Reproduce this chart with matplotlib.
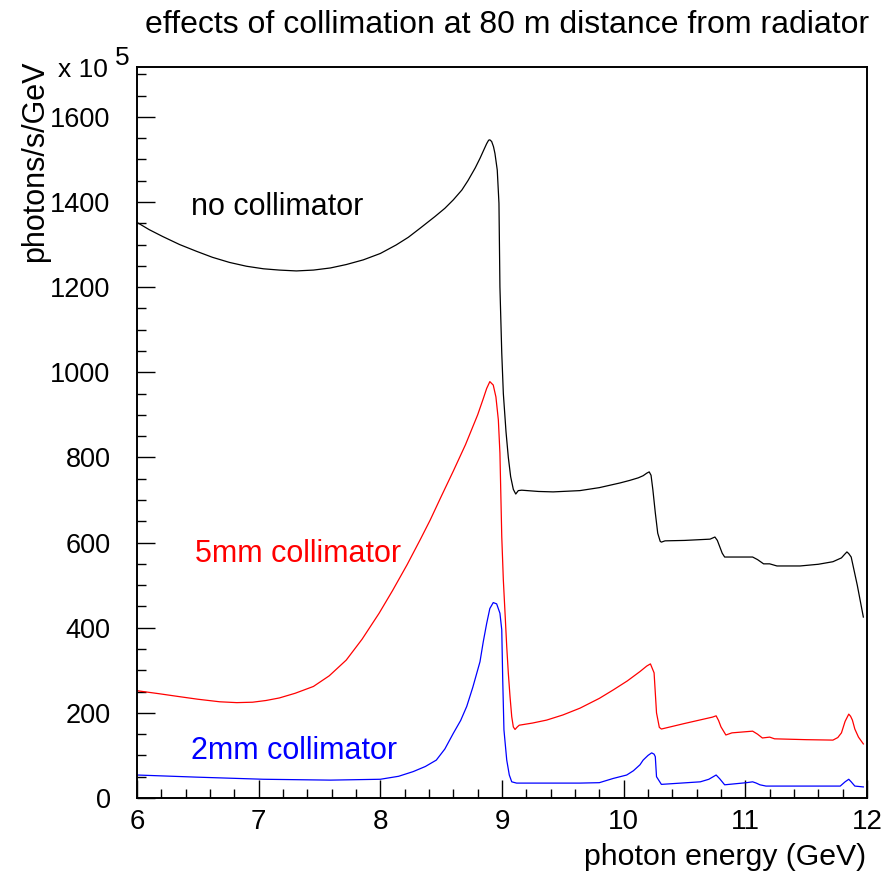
"""
Collimation effects on the photon spectrum, 80 m from radiator
"""

import matplotlib
matplotlib.use("Agg")
import matplotlib.pyplot as plt
from matplotlib.ticker import MultipleLocator

plt.rcParams['font.family'] = ['Liberation Sans', 'DejaVu Sans']

# no collimator (black)
e_none = [6.0, 6.1, 6.21, 6.35, 6.49, 6.62, 6.76, 6.9, 7.04, 7.17, 7.31, 7.45, 7.59, 7.72,
          7.86, 8.0, 8.13, 8.23, 8.33, 8.45, 8.53, 8.60, 8.67, 8.72, 8.78, 8.82, 8.85,
          8.874, 8.89, 8.90, 8.915, 8.93, 8.942, 8.961, 8.975, 8.983, 8.998, 9.011, 9.033,
          9.052, 9.071, 9.093, 9.113, 9.134, 9.162, 9.3, 9.42, 9.64, 9.80, 9.97, 10.05,
          10.12, 10.16, 10.19, 10.21, 10.225, 10.24, 10.26, 10.28, 10.30, 10.31, 10.34, 10.5,
          10.71, 10.75, 10.77, 10.79, 10.81, 10.83, 10.89, 11.06, 11.1, 11.15, 11.20, 11.26,
          11.45, 11.6, 11.72, 11.79, 11.815, 11.835, 11.85, 11.87, 11.92, 11.97]
n_none = [1352, 1335, 1319, 1300, 1284, 1270, 1258, 1249, 1243, 1240, 1238, 1240, 1245, 1253,
          1264, 1279, 1299, 1317, 1339, 1366, 1385, 1405, 1428, 1450, 1480, 1503, 1522,
          1537, 1545, 1546, 1542, 1530, 1514, 1475, 1397, 1200, 1045, 950, 860,
          800, 755, 725, 714, 722, 723, 720, 719, 722, 729, 740, 746,
          752, 757, 763, 766, 758, 724, 670, 622, 603, 601, 604, 605,
          608, 613, 605, 590, 575, 566, 566, 566, 560, 550, 550, 545,
          545, 549, 555, 564, 572, 578, 574, 566, 500, 425]

# 5mm collimator (red)
e_5mm = [6.0, 6.18, 6.35, 6.5, 6.68, 6.82, 6.95, 7.06, 7.17, 7.3, 7.45, 7.58, 7.72, 7.85,
         7.99, 8.1, 8.22, 8.33, 8.41, 8.5, 8.6, 8.7, 8.8, 8.846, 8.874, 8.90, 8.928, 8.95,
         8.97, 8.983, 8.998, 9.011, 9.025, 9.039, 9.052, 9.066, 9.08, 9.093, 9.107, 9.126,
         9.142, 9.25, 9.367, 9.5, 9.641, 9.80, 9.915, 10.03, 10.134, 10.19, 10.22, 10.25,
         10.27, 10.293, 10.31, 10.5, 10.73, 10.76, 10.78, 10.80, 10.84, 10.89, 11.06, 11.1,
         11.14, 11.20, 11.24, 11.5, 11.72, 11.76, 11.79, 11.82, 11.85, 11.865, 11.88, 11.90,
         11.93, 11.97]
n_5mm = [252, 245, 238, 232, 226, 224, 225, 229, 235, 246, 262, 287, 324, 373,
         434, 487, 548, 608, 653, 708, 768, 830, 900, 938, 962, 978, 970, 942,
         888, 810, 614, 512, 434, 355, 293, 238, 191, 167, 161, 167,
         171, 176, 183, 195, 211, 234, 254, 275, 297, 310, 315, 294,
         200, 166, 162, 175, 190, 193, 182, 167, 148, 153, 157, 150,
         141, 143, 139, 137, 136, 142, 153, 180, 197, 192, 183, 162,
         143, 127]

# 2mm collimator (blue)
e_2mm = [6.0, 6.49, 7.04, 7.59, 8.0, 8.15, 8.27, 8.37, 8.46, 8.53, 8.60, 8.66, 8.71, 8.76,
         8.819, 8.846, 8.874, 8.90, 8.928, 8.956, 8.983, 8.998, 9.006, 9.016, 9.039, 9.06,
         9.08, 9.12, 9.64, 9.80, 9.915, 10.025, 10.08, 10.134, 10.16, 10.2, 10.23, 10.25,
         10.26, 10.27, 10.31, 10.63, 10.7, 10.76, 10.79, 10.83, 11.01, 11.06, 11.09, 11.12,
         11.17, 11.78, 11.82, 11.85, 11.87, 11.90, 11.97]
n_2mm = [54, 49, 44, 42, 44, 51, 62, 74, 89, 115, 152, 182, 215, 260,
         320, 367, 410, 445, 459, 456, 434, 395, 277, 160, 89, 54,
         38, 35, 35, 36, 46, 54, 64, 78, 89, 100, 106, 103,
         97, 50, 32, 38, 44, 54, 45, 31, 36, 38, 35, 31,
         28, 28, 38, 44, 38, 28, 26]

labels = ["no collimator", "5mm collimator", "2mm collimator"]
colors = ["black", "red", "blue"]
label_pos = [(6.44, 1389), (6.48, 573), (6.44, 110)]

fig = plt.figure(figsize=(8.94, 8.73), dpi=100)
ax = fig.add_axes([137 / 894, 1 - 798 / 873, (867 - 137) / 894, (798 - 67) / 873])

for e, n, c in zip([e_none, e_5mm, e_2mm], [n_none, n_5mm, n_2mm], colors):
    ax.plot(e, n, color=c, lw=0.9)

for (lx, ly), txt, c in zip(label_pos, labels, colors):
    ax.text(lx, ly, txt, color=c, fontsize=22, ha='left', va='center')

ax.set_xlim(6, 12)
ax.set_ylim(0, 1717)

ax.xaxis.set_major_locator(MultipleLocator(1))
ax.xaxis.set_minor_locator(MultipleLocator(0.2))
ax.yaxis.set_major_locator(MultipleLocator(200))
ax.yaxis.set_minor_locator(MultipleLocator(50))
ax.tick_params(which='both', direction='in', top=False, right=False, width=1.0)
ax.tick_params(which='major', length=13)
ax.tick_params(which='minor', length=6.5)
ax.tick_params(axis='y', labelsize=19.5, pad=19)
ax.tick_params(axis='x', labelsize=20, pad=8)
for s in ax.spines.values():
    s.set_linewidth(1.4)

fig.text(145 / 894, 1 - 25 / 873, "effects of collimation at 80 m distance from radiator",
         fontsize=23, ha='left', va='center')
fig.text(58 / 894, 1 - 70 / 873, "x 10", fontsize=19, ha='left', va='center')
fig.text(115 / 894, 1 - 58 / 873, "5", fontsize=19, ha='left', va='center')
fig.text(35 / 894, 1 - 60 / 873, "photons/s/GeV", fontsize=22, rotation=90,
         ha='center', va='top')
fig.text(866 / 894, 1 - 857 / 873, "photon energy (GeV)", fontsize=21.8,
         ha='right', va='center')

fig.savefig("out.png", dpi=100)
